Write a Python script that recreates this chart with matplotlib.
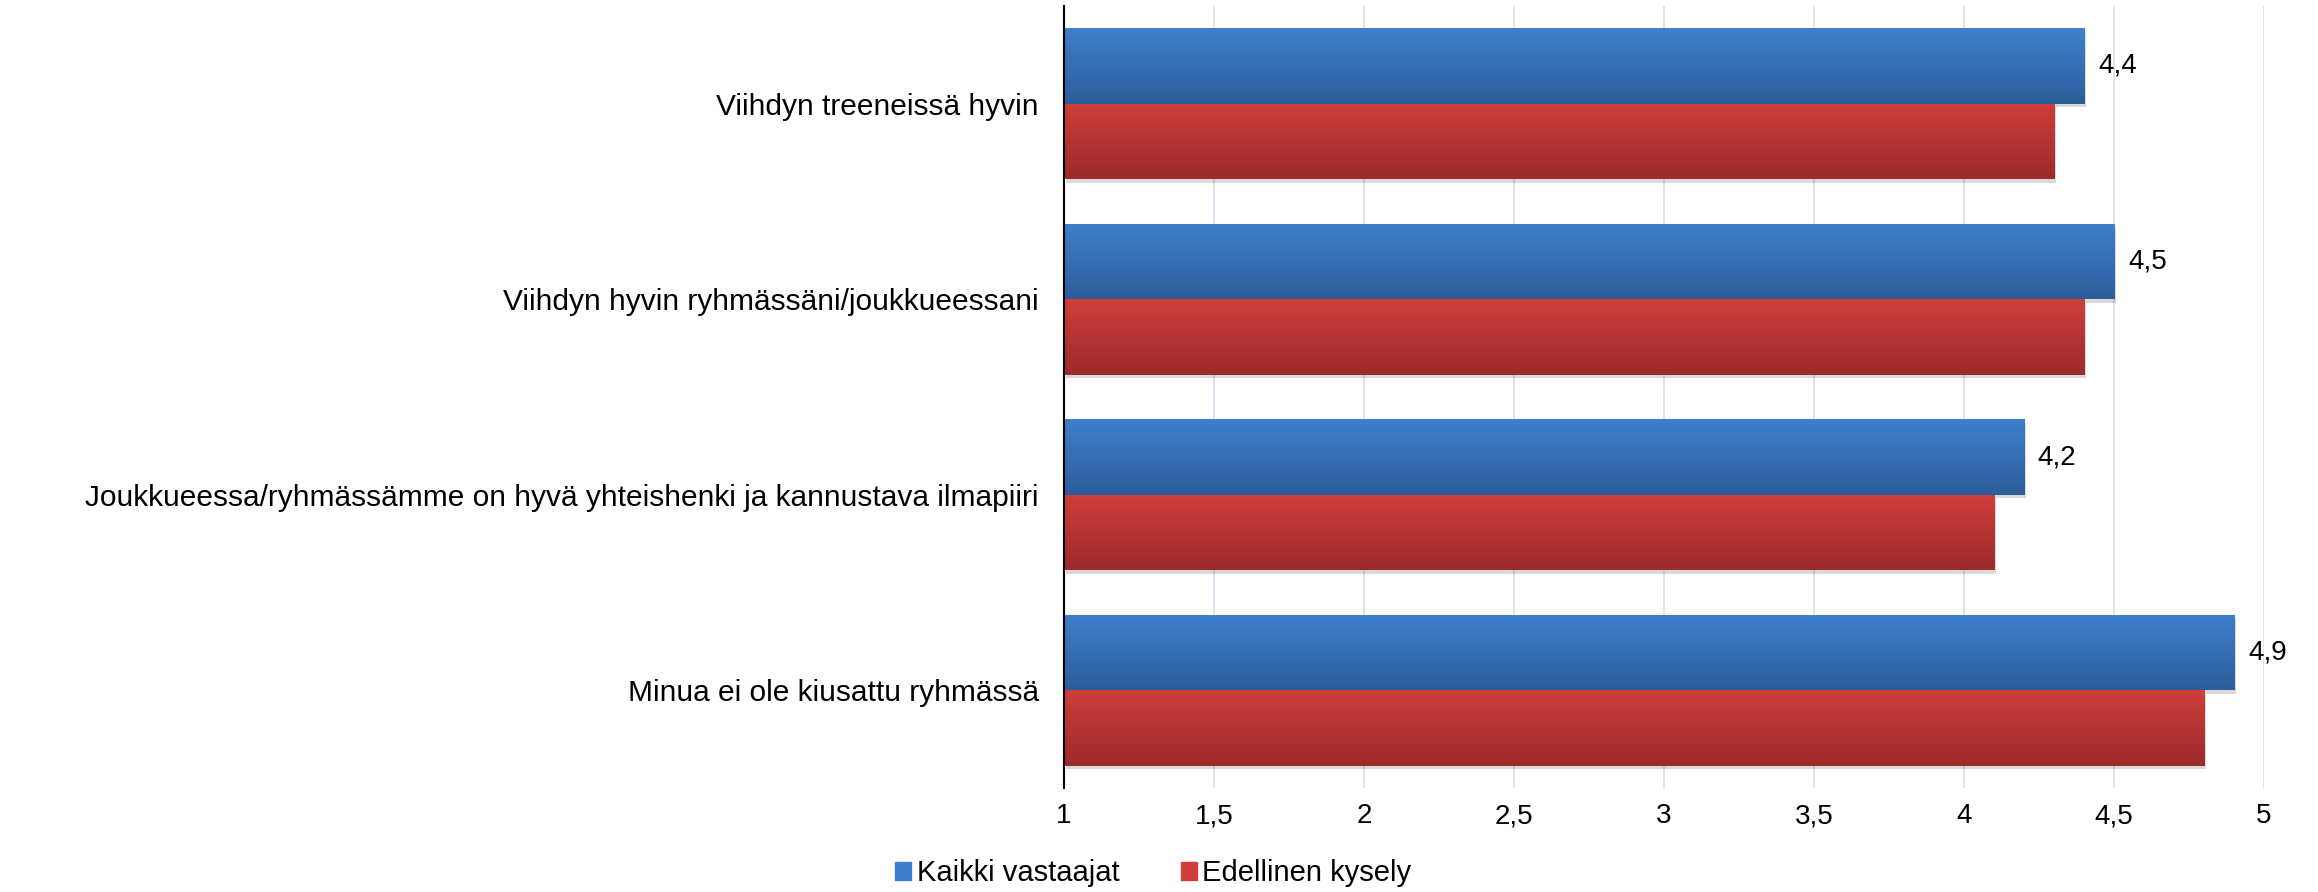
"""
Survey chart: horizontal grouped bars with gradient fill, Excel style.
"""
import matplotlib
matplotlib.use("Agg")
import matplotlib.pyplot as plt
import matplotlib.patheffects as pe
from matplotlib.colors import LinearSegmentedColormap
from matplotlib.patches import Patch
import numpy as np

categories = [
    "Viihdyn treeneissä hyvin",
    "Viihdyn hyvin ryhmässäni/joukkueessani",
    "Joukkueessa/ryhmässämme on hyvä yhteishenki ja kannustava ilmapiiri",
    "Minua ei ole kiusattu ryhmässä",
]
kaikki = [4.4, 4.5, 4.2, 4.9]
edellinen = [4.3, 4.4, 4.1, 4.8]
series_names = ["Kaikki vastaajat", "Edellinen kysely"]
xticks = [1, 1.5, 2, 2.5, 3, 3.5, 4, 4.5, 5]

BLUE_TOP, BLUE_BOT = "#3E80CD", "#2C5D9A"
RED_TOP, RED_BOT = "#CF3E3B", "#9C2B2B"
GRID = "#D6E0EE"
FONT = ["Liberation Sans", "DejaVu Sans"]

plt.rcParams["font.family"] = FONT

fig = plt.figure(figsize=(23.18, 8.92), dpi=100)
ax = fig.add_axes([0.459, 0.1166, 0.5177, 0.8767])

y = np.arange(len(categories))
h = 0.386
base = 1

bars_b = ax.barh(y - h / 2, np.array(kaikki) - base, left=base, height=h,
                 color=BLUE_BOT, zorder=3)
bars_r = ax.barh(y + h / 2, np.array(edellinen) - base, left=base, height=h,
                 color=RED_BOT, zorder=3)

shadow = [pe.SimplePatchShadow(offset=(1.5, -2.5), shadow_rgbFace="#000000", alpha=0.15),
          pe.Normal()]
grad = np.linspace(0, 1, 256).reshape(-1, 1)
for bars, top, bot in ((bars_b, BLUE_TOP, BLUE_BOT), (bars_r, RED_TOP, RED_BOT)):
    cmap = LinearSegmentedColormap.from_list("g", [top, bot])
    for p in bars:
        p.set_path_effects(shadow)
        x0, y0, w, hh = p.get_x(), p.get_y(), p.get_width(), p.get_height()
        im = ax.imshow(grad, extent=(x0, x0 + w, y0 + hh, y0), origin="upper",
                       aspect="auto", cmap=cmap, zorder=4, interpolation="bilinear")
        im.set_clip_path(p)

for yi, v in zip(y, kaikki):
    ax.annotate(f"{v:.1f}".replace(".", ","), xy=(v, yi - h / 2), xytext=(10, 0),
                textcoords="offset points", va="center", ha="left", fontsize=20,
                color="#000000")

ax.set_xlim(1, 5)
ax.set_ylim(len(categories) - 0.5, -0.5)
ax.set_xticks(xticks)
ax.set_xticklabels([f"{t:g}".replace(".", ",") for t in xticks], fontsize=20)
ax.set_yticks(y)
ax.set_yticklabels(categories, fontsize=21.5)
ax.tick_params(axis="both", length=0)
ax.tick_params(axis="x", pad=11)
ax.tick_params(axis="y", pad=18)

for s in ("top", "right", "bottom"):
    ax.spines[s].set_visible(False)
ax.spines["left"].set_color("#000000")
ax.spines["left"].set_linewidth(1.5)
ax.spines["left"].set_zorder(5)
ax.xaxis.grid(True, color=GRID, linewidth=1.2)
ax.set_axisbelow(True)

handles = [Patch(color=BLUE_TOP), Patch(color=RED_TOP)]
fig.legend(handles, series_names, loc="center", bbox_to_anchor=(0.4975, 0.021),
           ncol=2, frameon=False, fontsize=21, handlelength=0.55, handleheight=0.55,
           handletextpad=0.2, columnspacing=2.1, borderpad=0)

fig.savefig("out.png", dpi=100)
